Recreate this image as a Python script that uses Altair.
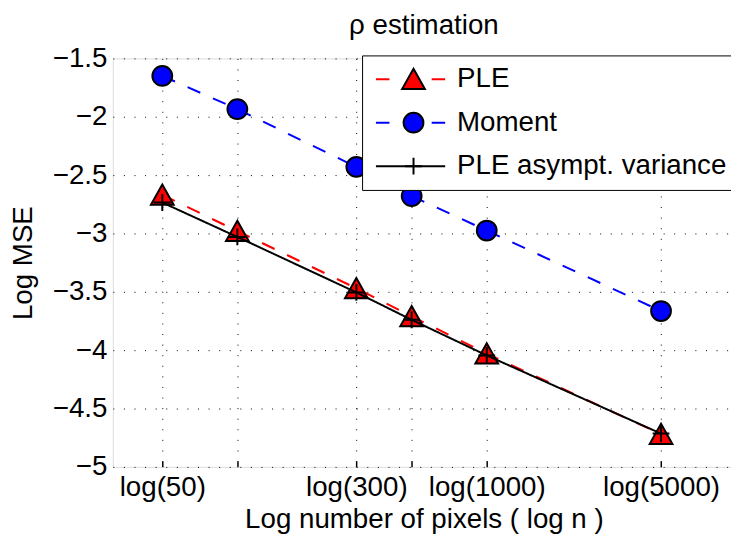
import math
import altair as alt
import pandas as pd

FONT = "Liberation Sans"

# ---- data ----
n_values = [50, 100, 300, 500, 1000, 5000]
labeled_n = [50, 300, 1000, 5000]
ple_mse = [-2.67, -2.98, -3.47, -3.71, -4.03, -4.72]
moment_mse = [-1.65, -1.935, -2.43, -2.68, -2.975, -3.665]
asym_mse = [-2.735, -3.03, -3.505, -3.74, -4.045, -4.715]
series_names = ["PLE", "Moment", "PLE asympt. variance"]
marker_keys = ["PLE marker", "Moment marker", "asympt marker"]
series_colors = ["#ff0000", "#0000ff", "#000000"]
y_ticks = [-5, -4.5, -4, -3.5, -3, -2.5, -2, -1.5]

rows = []
for name, key, vals in zip(series_names, marker_keys, [ple_mse, moment_mse, asym_mse]):
    for n, v in zip(n_values, vals):
        rows.append({"n": n, "logn": math.log(n), "mse": v, "Series": name, "Marker": key})
df = pd.DataFrame(rows)

TRI = "M0,-1.05L1.15,1.0L-1.15,1.0Z"
PLUS = "M-0.85,0H0.85M0,-0.85V0.85"

label_expr = (
    "indexof([" + ",".join(str(v) for v in labeled_n) + "], round(exp(datum.value))) >= 0"
    " ? 'log(' + round(exp(datum.value)) + ')' : ''"
)

x_axis = alt.Axis(
    values=[math.log(n) for n in n_values], labelExpr=label_expr,
    grid=True, gridColor="black", gridDash=[1, 9.7], gridWidth=1, gridOpacity=1,
    domain=False, ticks=True, tickSize=6, tickColor="black", tickWidth=1.5, offset=-6,
    labelFontSize=28, labelFont=FONT, labelColor="black", labelPadding=7,
    labelOverlap=False, labelFlush=False,
    titleFontSize=28, titleFont=FONT, titleFontWeight="normal", titleColor="black",
    titlePadding=4,
)
y_axis = alt.Axis(
    values=y_ticks, format=".1~f",
    grid=True, gridColor="black", gridDash=[1, 9.7], gridWidth=1, gridOpacity=1,
    domain=False, ticks=False, labelPadding=6,
    labelFontSize=28, labelFont=FONT, labelColor="black", labelOverlap=False,
    titleFontSize=28, titleFont=FONT, titleFontWeight="normal", titleColor="black",
    titlePadding=15,
)

x_enc = alt.X("logn:Q", scale=alt.Scale(domain=[3.4554, 9.1997], nice=False, zero=False),
              axis=x_axis, title="Log number of pixels ( log n )")
y_enc = alt.Y("mse:Q", scale=alt.Scale(domain=[-5, -1.5], nice=False, zero=False),
              axis=y_axis, title="Log MSE")

legend_lines = alt.Legend(
    orient="none", legendX=252, legendY=-3,
    symbolType={"expr": "datum.value === 'PLE asympt. variance' ? 'M-1,0H1' : 'M-1,0H-0.61M0.61,0H1'"},
    symbolSize=4900, symbolStrokeWidth=2, symbolOffset=11,
    labelFontSize=28, labelFont=FONT, labelColor="black", labelOffset=11, labelLimit=500,
    clipHeight=44, rowPadding=0, padding=2,
    titleOrient="right", titlePadding=6, titleFontSize=28, titleFont=FONT,
    strokeColor="black", fillColor="white", cornerRadius=0, zindex=1,
)
legend_marks = alt.Legend(
    orient="none", legendX=252, legendY=-3,
    symbolSize=400, symbolStrokeWidth=2, symbolOffset=36,
    labelFontSize=28, labelFont=FONT, labelExpr="''", labelOffset=0,
    clipHeight=44, rowPadding=0, padding=2,
    strokeColor="transparent", fillColor="transparent", zindex=2,
)

color_enc = alt.Color("Series:N", scale=alt.Scale(domain=series_names, range=series_colors),
                      legend=legend_lines, title=" ")
dash_enc = alt.StrokeDash("Series:N", scale=alt.Scale(domain=series_names, range=[[14, 14], [14, 14], [1, 0]]),
                          legend=None)
shape_enc = alt.Shape("Marker:N", scale=alt.Scale(domain=marker_keys, range=[TRI, "circle", PLUS]),
                      legend=legend_marks, title=None)
fill_enc = alt.Fill("Marker:N", scale=alt.Scale(domain=marker_keys, range=series_colors),
                    legend=legend_marks, title=None)

base = alt.Chart(df)
lines = base.mark_line(strokeWidth=2).encode(x=x_enc, y=y_enc, color=color_enc, strokeDash=dash_enc)
points = base.mark_point(filled=True, stroke="black", strokeWidth=2, size=400, opacity=1).encode(
    x=x_enc, y=y_enc, shape=shape_enc, fill=fill_enc)

first = alt.FieldOneOfPredicate(field="Series", oneOf=["PLE", "Moment"])
last = alt.FieldOneOfPredicate(field="Series", oneOf=["PLE asympt. variance"])

chart = alt.layer(
    lines.transform_filter(first),
    points.transform_filter(first),
    lines.transform_filter(last),
    points.transform_filter(last),
).properties(
    width=629, height=413,
    padding={"left": 106, "top": 48, "right": -4, "bottom": 72},
    autosize=alt.AutoSizeParams(type="none"),
    title=alt.TitleParams("ρ estimation", fontSize=28, font=FONT, fontWeight="normal",
                          color="black", offset=5, anchor="middle"),
).configure_view(stroke="black", strokeWidth=2).configure(background="white")

chart.save("out.html", embed_options={"renderer": "svg", "actions": False})
